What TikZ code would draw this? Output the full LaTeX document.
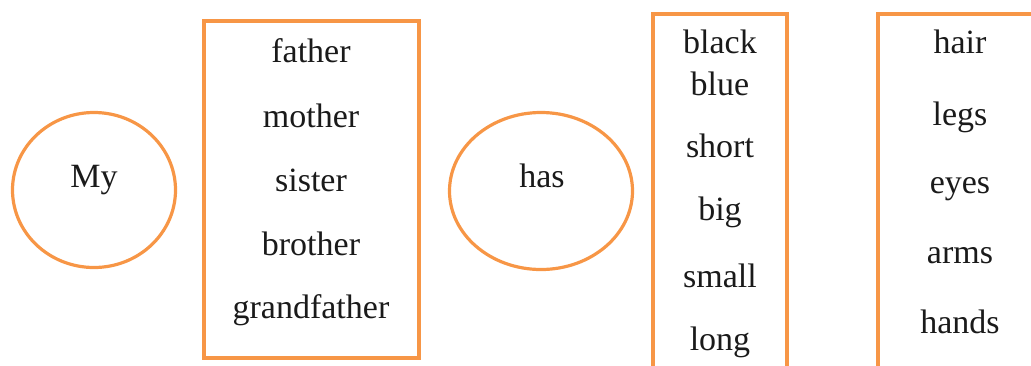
\documentclass[tikz,border=0pt]{standalone}
\usepackage{fontspec}
\setmainfont{Liberation Serif}
\usepackage{tikz}
\usetikzlibrary{shapes.geometric}
\definecolor{wordorange}{HTML}{F79646}
\definecolor{wordink}{HTML}{1A1A1A}

\begin{document}
\begin{tikzpicture}[
    x=1pt, y=-1pt,
    every node/.style={font=\fontsize{34}{39}\selectfont, text=wordink},
    wordring/.style={ellipse, draw=wordorange, line width=3.2pt, inner sep=0pt},
    wordbox/.style={rectangle, draw=wordorange, line width=3.5pt, inner sep=0pt},
    word/.style={anchor=base, inner sep=0pt}
]
    % === PAGE ===
    \path[use as bounding box, clip] (0,0) rectangle (1031,365);

    % === MY ===
    \node[wordring, minimum width=163pt, minimum height=155pt] (my) at (94,190) {};
    \node[word] (mytext) at (94,187) {My};

    % === PEOPLE ===
    \node[wordbox, minimum width=215pt, minimum height=337pt] (people) at (311.5,189.5) {};
    \foreach \y/\w [count=\i] in {62/father, 127/mother, 191/sister, 255/brother, 318/grandfather} {
        \node[word] (people\i) at (311,\y) {\w};
    }

    % === HAS ===
    \node[wordring, minimum width=183pt, minimum height=157pt] (has) at (541,191) {};
    \node[word] (hastext) at (542,187) {has};

    % === ADJECTIVES ===
    \node[wordbox, minimum width=134pt, minimum height=386pt] (adjectives) at (720,207) {};
    \foreach \y/\w [count=\i] in {53/black, 95/blue, 157/short, 220/big, 287/small, 350/long} {
        \node[word] (adjectives\i) at (720,\y) {\w};
    }

    % === BODY PARTS ===
    \node[wordbox, minimum width=222pt, minimum height=386pt] (body) at (989,207) {};
    \foreach \y/\w [count=\i] in {53/hair, 125/legs, 193/eyes, 263/arms, 333/hands} {
        \node[word] (body\i) at (960,\y) {\w};
    }
\end{tikzpicture}
\end{document}
